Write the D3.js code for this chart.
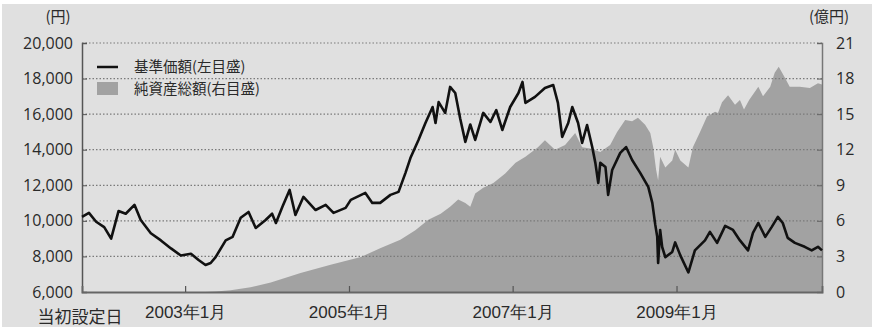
<!DOCTYPE html>
<html>
<head>
<meta charset="utf-8">
<script src="https://cdn.jsdelivr.net/npm/d3@7"></script>
<style>
  body { margin: 0; background: #ffffff; }
  svg { display: block; font-family: "Noto Sans CJK JP", "Noto Sans", sans-serif; }
</style>
</head>
<body>
<svg id="chart" width="872" height="327"></svg>
<script>
// 基準価額 (円, 左目盛)
const navDates = ["2001-09-28","2001-10-29","2001-11-30","2002-01-05","2002-02-05","2002-03-10","2002-04-11","2002-05-20","2002-06-17","2002-08-01",
  "2002-09-15","2002-10-30","2002-12-13","2003-01-27","2003-03-02","2003-04-02","2003-04-25","2003-05-17","2003-07-01","2003-08-01",
  "2003-09-06","2003-10-11","2003-11-12","2003-12-26","2004-01-24","2004-02-10","2004-03-10","2004-04-11","2004-05-07","2004-06-12",
  "2004-08-05","2004-09-19","2004-10-24","2004-12-17","2005-01-09","2005-03-15","2005-04-15","2005-05-20","2005-07-05","2005-08-10",
  "2005-09-10","2005-10-02","2005-11-07","2005-12-08","2006-01-09","2006-01-22","2006-02-05","2006-03-06","2006-03-28","2006-04-20",
  "2006-05-12","2006-06-04","2006-06-26","2006-07-18","2006-08-23","2006-09-24","2006-10-20","2006-11-16","2006-12-21","2007-01-27",
  "2007-02-14","2007-02-27","2007-04-11","2007-05-25","2007-07-01","2007-07-22","2007-08-10","2007-09-06","2007-09-24","2007-10-20",
  "2007-11-07","2007-11-29","2007-12-22","2008-01-05","2008-01-18","2008-01-27","2008-02-19","2008-03-02","2008-03-20","2008-04-25",
  "2008-05-21","2008-06-17","2008-07-23","2008-08-28","2008-09-15","2008-09-28","2008-10-07","2008-10-11","2008-10-20","2008-10-29",
  "2008-11-12","2008-12-13","2008-12-26","2009-01-18","2009-02-23","2009-03-24","2009-05-08","2009-05-30","2009-07-01","2009-08-06",
  "2009-09-10","2009-10-11","2009-11-16","2009-12-08","2010-01-01","2010-02-01","2010-03-02","2010-03-29","2010-04-20","2010-05-12",
  "2010-06-13","2010-07-27","2010-08-27","2010-09-24","2010-10-12"];
const navValues = [10220,10450,9950,9650,9000,10550,10400,10900,10050,9300,
  8900,8450,8050,8150,7800,7520,7630,7960,8900,9100,
  10170,10500,9600,10050,10400,9880,10790,11740,10330,11350,
  10610,10900,10450,10730,11180,11570,11010,11010,11460,11630,
  12700,13530,14550,15500,16400,15500,16680,16070,17530,17190,
  15760,14440,15420,14550,16070,15560,16230,15110,16400,17190,
  17810,16630,16970,17470,17640,16630,14720,15500,16400,15500,
  14380,15390,14150,13260,12130,13260,13030,11460,12860,13820,
  14150,13420,12700,11910,11010,9800,9100,7630,9490,8530,
  7960,8250,8790,8060,7100,8340,8900,9380,8760,9720,
  9490,8900,8340,9320,9880,9100,9660,10220,9880,9040,
  8760,8540,8340,8540,8340];

// 純資産総額 (億円, 右目盛)
const assetDates = ["2001-09-28","2003-04-02","2003-05-17","2003-07-23","2003-10-20","2004-01-18","2004-05-30","2004-10-11","2005-02-23","2005-05-20",
  "2005-08-18","2005-10-24","2005-12-21","2006-02-14","2006-03-28","2006-05-03","2006-06-04","2006-06-26","2006-07-18","2006-08-23",
  "2006-10-07","2006-11-29","2007-01-14","2007-02-27","2007-04-24","2007-05-25","2007-07-09","2007-08-23","2007-10-07","2007-11-07",
  "2007-12-13","2008-01-27","2008-03-11","2008-04-11","2008-05-17","2008-06-17","2008-07-13","2008-08-14","2008-09-06","2008-09-19",
  "2008-10-02","2008-10-11","2008-10-20","2008-11-12","2008-12-13","2008-12-26","2009-01-18","2009-02-23","2009-03-15","2009-04-16",
  "2009-05-17","2009-06-22","2009-07-05","2009-07-23","2009-08-19","2009-09-19","2009-10-11","2009-10-29","2009-11-21","2010-01-01",
  "2010-01-22","2010-02-23","2010-03-15","2010-04-02","2010-04-29","2010-05-21","2010-07-05","2010-08-19","2010-09-24","2010-10-12"];
const assetValues = [0,0,0.05,0.15,0.4,0.8,1.6,2.3,2.95,3.7,
  4.4,5.2,6.1,6.6,7.2,7.8,7.5,7.2,8.3,8.8,
  9.2,10.0,10.9,11.4,12.2,12.8,12.0,12.4,13.4,12.2,
  12.1,11.8,12.4,13.5,14.5,14.4,14.7,14.1,13.4,12.2,
  10.3,9.4,11.4,10.5,11.1,12.0,11.1,10.5,12.2,13.5,
  14.8,15.2,15.1,16.0,16.6,15.8,16.2,15.4,16.2,17.3,
  16.5,17.3,18.5,19.0,18.1,17.3,17.3,17.2,17.6,17.5];

const leftTicks = [6000, 8000, 10000, 12000, 14000, 16000, 18000, 20000];
const rightTicks = [0, 3, 6, 9, 12, 15, 18, 21];
const xTicks = ["2003-01-01", "2005-01-01", "2007-01-01", "2009-01-01"];
const xTickLabels = ["2003年1月", "2005年1月", "2007年1月", "2009年1月"];
const legendLabels = ["基準価額(左目盛)", "純資産総額(右目盛)"];

const parse = d3.timeParse("%Y-%m-%d");
const nav = navDates.map((d, i) => ({ date: parse(d), value: navValues[i] }));
const assets = assetDates.map((d, i) => ({ date: parse(d), value: assetValues[i] }));

const svg = d3.select("#chart");
const margin = { left: 82, right: 50, top: 43, bottom: 35 };
const width = 872, height = 327;
const textColor = "#2a2a2a";

// gray backdrop
svg.append("rect").attr("x", 2).attr("y", 4).attr("width", width - 2).attr("height", height - 4).attr("fill", "#e0e0e0");

const x = d3.scaleTime()
  .domain([parse("2001-09-28"), parse("2010-10-12")])
  .range([margin.left, width - margin.right]);
const yL = d3.scaleLinear().domain([6000, 20000]).range([height - margin.bottom, margin.top]);
const yR = d3.scaleLinear().domain([0, 21]).range([height - margin.bottom, margin.top]);

// area (net assets)
const area = d3.area()
  .x(d => x(d.date))
  .y0(yR(0))
  .y1(d => yR(d.value));
svg.append("path").datum(assets).attr("d", area).attr("fill", "#a2a2a2");

// dotted gridlines
svg.append("g").selectAll("line").data(leftTicks.slice(1)).join("line")
  .attr("x1", margin.left).attr("x2", width - margin.right)
  .attr("y1", d => yL(d)).attr("y2", d => yL(d))
  .attr("stroke", "#7a7a7a").attr("stroke-width", 1.2).attr("stroke-dasharray", "1.5,2");

// left axis
const leftAxis = svg.append("g")
  .attr("transform", `translate(${margin.left},0)`)
  .call(d3.axisLeft(yL).tickValues(leftTicks).tickFormat(d3.format(",")).tickSize(-5).tickPadding(9));
leftAxis.select(".domain").attr("stroke", "#555").attr("stroke-width", 1.5);
leftAxis.selectAll(".tick line").attr("stroke", "#555");
leftAxis.selectAll("text").attr("font-size", 16).attr("fill", textColor).attr("font-family", "Open Sans, sans-serif");

// right axis
const rightAxis = svg.append("g")
  .attr("transform", `translate(${width - margin.right},0)`)
  .call(d3.axisRight(yR).tickValues(rightTicks).tickSize(-5).tickPadding(14));
rightAxis.select(".domain").attr("stroke", "#777").attr("stroke-width", 1.5);
rightAxis.selectAll(".tick line").attr("stroke", "#666");
rightAxis.selectAll("text").attr("font-size", 16).attr("fill", textColor).attr("font-family", "Open Sans, sans-serif");

// bottom axis
const bottomAxis = svg.append("g")
  .attr("transform", `translate(0,${height - margin.bottom})`)
  .call(d3.axisBottom(x).tickValues(xTicks.map(parse)).tickFormat((d, i) => xTickLabels[i]).tickSize(-6).tickPadding(14));
bottomAxis.select(".domain").attr("stroke", "#666").attr("stroke-width", 1.8);
bottomAxis.selectAll(".tick line").attr("stroke", "#555").attr("stroke-width", 1.2);
bottomAxis.selectAll("text").attr("font-size", 17).attr("fill", textColor);

svg.append("text").attr("x", margin.left - 2).attr("y", 323)
  .attr("text-anchor", "middle").attr("font-size", 17).attr("fill", textColor).text("当初設定日");

// unit labels
svg.append("text").attr("x", 58).attr("y", 22).attr("text-anchor", "middle")
  .attr("font-size", 15).attr("fill", textColor).text("(円)");
svg.append("text").attr("x", 829).attr("y", 22).attr("text-anchor", "middle")
  .attr("font-size", 15).attr("fill", textColor).text("(億円)");

// NAV line
const line = d3.line().x(d => x(d.date)).y(d => yL(d.value));
svg.append("path").datum(nav).attr("d", line)
  .attr("fill", "none").attr("stroke", "#111").attr("stroke-width", 2.6).attr("stroke-linejoin", "round");

// legend
const legend = svg.append("g");
legend.append("line").attr("x1", 97).attr("x2", 118).attr("y1", 67).attr("y2", 67)
  .attr("stroke", "#111").attr("stroke-width", 2.5);
legend.append("rect").attr("x", 97).attr("y", 82).attr("width", 21).attr("height", 13).attr("fill", "#a2a2a2");
legend.selectAll("text").data(legendLabels).join("text")
  .attr("x", 134).attr("y", (d, i) => 72 + i * 22)
  .attr("font-size", 14.5).attr("fill", textColor).text(d => d);
</script>
</body>
</html>
